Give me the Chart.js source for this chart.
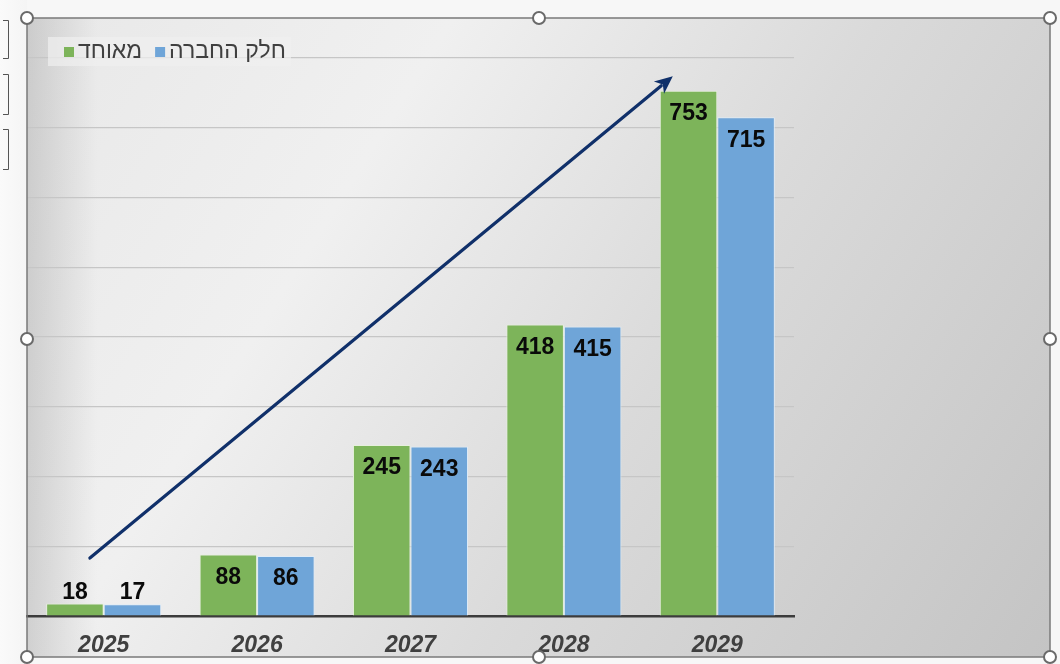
<!DOCTYPE html>
<html lang="he">
<head>
<meta charset="utf-8">
<title>מאוחד / חלק החברה 2025–2029</title>
<script src="https://cdn.jsdelivr.net/npm/chart.js@4/dist/chart.umd.min.js"></script>
<style>
  html, body { margin: 0; padding: 0; background: #ffffff; }
  #wrap { position: relative; width: 1060px; height: 664px; }
  canvas { display: block; }
</style>
</head>
<body>
<div id="wrap"><canvas id="chart" width="1060" height="664"></canvas></div>
<script>
// Years on the category axis
const years = ['2025', '2026', '2027', '2028', '2029'];
// Consolidated totals
const consolidated = [18, 88, 245, 418, 753];
// Company share
const companyShare = [17, 86, 243, 415, 715];
// Series names
const seriesNames = ['מאוחד', 'חלק החברה'];
// Growth arrow, in data units: [category index, value]
const arrowFrom = [-0.09, 83];
const arrowTo = [3.71, 774];

const FONT = '"Liberation Sans", Arial, "DejaVu Sans", sans-serif';
const GREEN = '#7db45a';
const BLUE = '#6fa5d8';

// Frame, gradient fill and the selection handles around the chart object
const framePlugin = {
  id: 'frame',
  beforeDraw(chart) {
    const ctx = chart.ctx;
    const W = chart.width, H = chart.height;
    ctx.save();
    ctx.fillStyle = '#f7f7f7';
    ctx.fillRect(0, 0, W, H);
    const g0 = ctx.createLinearGradient(0, 0, 40, 0);
    g0.addColorStop(0, '#fafafa');
    g0.addColorStop(1, '#f2f2f2');
    ctx.fillStyle = g0;
    ctx.fillRect(0, 0, 27, H);

    // brackets at the far left
    ctx.strokeStyle = '#555';
    ctx.lineWidth = 1;
    [[20, 58], [74, 114], [129, 169]].forEach(([a, b]) => {
      ctx.beginPath();
      ctx.moveTo(3, a + 0.5); ctx.lineTo(8.5, a + 0.5); ctx.lineTo(8.5, b + 0.5); ctx.lineTo(3, b + 0.5);
      ctx.stroke();
    });

    const x0 = 27, y0 = 18, x1 = 1050, y1 = 657;
    const g = ctx.createLinearGradient(x0, y0, x1, y1);
    g.addColorStop(0, '#e8e8e8');
    g.addColorStop(0.3, '#f0f0f0');
    g.addColorStop(0.6, '#dadada');
    g.addColorStop(1, '#c4c4c4');
    ctx.fillStyle = g;
    ctx.fillRect(x0, y0, x1 - x0, y1 - y0);
    const gl = ctx.createLinearGradient(x0, 0, x0 + 70, 0);
    gl.addColorStop(0, 'rgba(150,150,150,0.35)');
    gl.addColorStop(1, 'rgba(150,150,150,0)');
    ctx.fillStyle = gl;
    ctx.fillRect(x0, y0, 70, y1 - y0);
    ctx.restore();
  },
  afterDraw(chart) {
    const ctx = chart.ctx;
    const x0 = 27, y0 = 18, x1 = 1050, y1 = 657;
    ctx.save();
    ctx.strokeStyle = '#7a7a7a';
    ctx.lineWidth = 1.5;
    ctx.strokeRect(x0, y0, x1 - x0, y1 - y0);
    const xm = 539, ym = 339;
    const pts = [[x0, y0], [xm, y0], [x1, y0], [x0, ym], [x1, ym], [x0, y1], [xm, y1], [x1, y1]];
    pts.forEach(([x, y]) => {
      ctx.beginPath();
      ctx.arc(x, y, 6, 0, Math.PI * 2);
      ctx.fillStyle = '#ffffff';
      ctx.fill();
      ctx.lineWidth = 2;
      ctx.strokeStyle = '#6a6a6a';
      ctx.stroke();
    });
    ctx.restore();
  }
};

// Value labels on the bars, plus the legend and the growth arrow
const overlayPlugin = {
  id: 'overlay',
  afterDatasetsDraw(chart) {
    const ctx = chart.ctx;
    const xs = chart.scales.x, ys = chart.scales.y;
    ctx.save();

    // value labels
    ctx.font = 'bold 23px ' + FONT;
    ctx.fillStyle = '#0a0a0a';
    ctx.textAlign = 'center';
    ctx.textBaseline = 'middle';
    chart.data.datasets.forEach((ds, di) => {
      const meta = chart.getDatasetMeta(di);
      meta.data.forEach((bar, i) => {
        const h = bar.base - bar.y;
        const y = h > 40 ? bar.y + 23 : bar.y - 11;
        ctx.fillText(String(ds.data[i]), bar.x, y);
      });
    });

    // growth arrow
    const ax0 = xs.getPixelForValue(arrowFrom[0]), ay0 = ys.getPixelForValue(arrowFrom[1]);
    const ax1 = xs.getPixelForValue(arrowTo[0]), ay1 = ys.getPixelForValue(arrowTo[1]);
    const ang = Math.atan2(ay1 - ay0, ax1 - ax0);
    const headLen = 18, headW = 8;
    const bx = ax1 - headLen * Math.cos(ang), by = ay1 - headLen * Math.sin(ang);
    ctx.strokeStyle = '#10306a';
    ctx.fillStyle = '#10306a';
    ctx.lineWidth = 3.2;
    ctx.lineCap = 'round';
    ctx.beginPath();
    ctx.moveTo(ax0, ay0);
    ctx.lineTo(bx + 3 * Math.cos(ang), by + 3 * Math.sin(ang));
    ctx.stroke();
    ctx.beginPath();
    ctx.moveTo(ax1, ay1);
    ctx.lineTo(bx + headW * Math.sin(ang), by - headW * Math.cos(ang));
    ctx.lineTo(bx + 5 * Math.cos(ang), by + 5 * Math.sin(ang));
    ctx.lineTo(bx - headW * Math.sin(ang), by + headW * Math.cos(ang));
    ctx.closePath();
    ctx.fill();

    // legend
    const lx = 48, ly = 37, lw = 243, lh = 29;
    ctx.fillStyle = 'rgba(240,240,240,0.7)';
    ctx.fillRect(lx, ly, lw, lh);
    ctx.font = '23px ' + FONT;
    ctx.textAlign = 'left';
    ctx.textBaseline = 'middle';
    ctx.direction = 'ltr';
    let cx = 64;
    const cy = ly + lh / 2 + 0.5;
    chart.data.datasets.forEach((ds) => {
      ctx.fillStyle = ds.backgroundColor;
      ctx.fillRect(cx, cy - 5, 10, 10);
      ctx.fillStyle = '#404040';
      ctx.fillText(ds.label, cx + 14, cy);
      cx += 14 + ctx.measureText(ds.label).width + 13;
    });
    ctx.restore();
  }
};

new Chart(document.getElementById('chart'), {
  type: 'bar',
  data: {
    labels: years,
    datasets: [
      { label: seriesNames[0], data: consolidated, backgroundColor: GREEN, borderColor: '#e6f0dc', borderWidth: 1 },
      { label: seriesNames[1], data: companyShare, backgroundColor: BLUE, borderColor: '#deebf7', borderWidth: 1 }
    ]
  },
  options: {
    responsive: false,
    animation: false,
    events: [],
    layout: { padding: { left: 27, right: 266, top: 58, bottom: 0 } },
    datasets: { bar: { categoryPercentage: 0.75, barPercentage: 1.0 } },
    scales: {
      x: {
        grid: { display: false, drawTicks: false },
        border: { display: true, color: '#3c3c3c', width: 2.5 },
        ticks: {
          padding: 16,
          color: '#404040',
          font: { family: FONT, size: 23, weight: 'bold', style: 'italic' }
        },
        afterFit(scale) { scale.height = 48; }
      },
      y: {
        min: 0, max: 800,
        ticks: { display: false, stepSize: 100 },
        grid: { color: '#c6c6c6', lineWidth: 1.2, drawTicks: false },
        border: { display: false }
      }
    },
    plugins: { legend: { display: false }, tooltip: { enabled: false } }
  },
  plugins: [framePlugin, overlayPlugin]
});
</script>
</body>
</html>
